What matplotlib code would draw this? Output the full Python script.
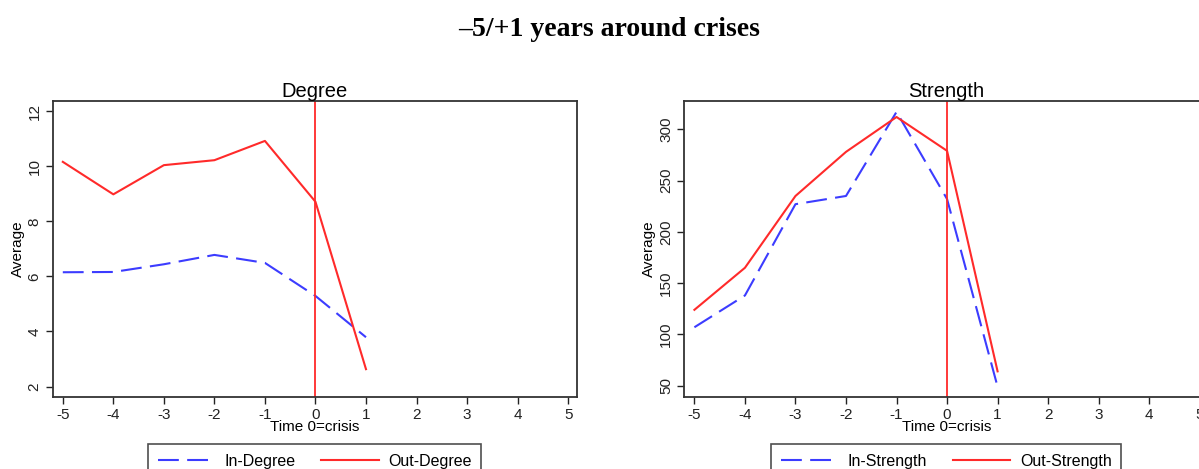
import matplotlib
matplotlib.use("Agg")
import matplotlib.pyplot as plt

years = [-5, -4, -3, -2, -1, 0, 1]
in_degree = [6.15, 6.16, 6.44, 6.78, 6.49, 5.29, 3.79]
out_degree = [10.16, 8.98, 10.04, 10.22, 10.92, 8.71, 2.63]
in_strength = [107, 138, 227, 235, 317, 232, 49]
out_strength = [124, 165, 235, 278, 312, 279, 64]
xticks = [-5, -4, -3, -2, -1, 0, 1, 2, 3, 4, 5]

plt.rcParams['font.family'] = ['Liberation Sans', 'DejaVu Sans']
plt.rcParams['axes.unicode_minus'] = False

fig = plt.figure(figsize=(11.99, 4.69), dpi=100)
fig.text(0.508, 0.938, "\u20135/+1 years around crises", ha='center', va='center',
         fontsize=20, fontweight='bold', family='Liberation Serif')

W, H = 1199, 469
def rect(x0, x1, y0, y1):
    return [x0 / W, 1 - y1 / H, (x1 - x0) / W, (y1 - y0) / H]

blue = '#3c3cff'
red = '#ff2a2a'
frame = '#333333'

panels = [
    (rect(52.7, 576.7, 101, 396.7), "Degree", in_degree, out_degree,
     "In-Degree", "Out-Degree", (1.63, 12.37), [2, 4, 6, 8, 10, 12]),
    (rect(684.3, 1208.3, 101, 396.7), "Strength", in_strength, out_strength,
     "In-Strength", "Out-Strength", (39.3, 327.6), [50, 100, 150, 200, 250, 300]),
]

for r, title, vin, vout, lin, lout, ylim, yt in panels:
    ax = fig.add_axes(r)
    ax.plot(years, vin, color=blue, lw=1.5, dashes=(10, 4), label=lin)
    ax.plot(years, vout, color=red, lw=1.5, label=lout)
    ax.axvline(0, color=red, lw=1.3)
    ax.set_xlim(-5.2, 5.17)
    ax.set_ylim(*ylim)
    ax.set_xticks(xticks)
    ax.set_yticks(yt)
    ax.set_yticklabels([str(v) for v in yt], rotation=90, va='center')
    ax.tick_params(direction='out', length=5, width=1, colors='#222222', labelsize=11, pad=3)
    for s in ax.spines.values():
        s.set_color(frame)
        s.set_linewidth(1.3)
    ax.set_title(title, fontsize=14.5, pad=2)
    ax.set_xlabel("Time 0=crisis", fontsize=11, labelpad=-1)
    ax.set_ylabel("Average", fontsize=11, labelpad=2)
    cx = r[0] + r[2] / 2
    leg = fig.legend(handles=ax.get_lines()[:2], loc='upper center',
                     bbox_to_anchor=(cx, 1 - 444 / H), ncol=2, frameon=True,
                     fancybox=False, edgecolor='#222222', fontsize=11.5,
                     handlelength=3.6, handletextpad=0.6, columnspacing=1.6,
                     borderaxespad=0, borderpad=0.6)
    leg.get_frame().set_linewidth(1.2)

fig.savefig("out.png", dpi=100)
